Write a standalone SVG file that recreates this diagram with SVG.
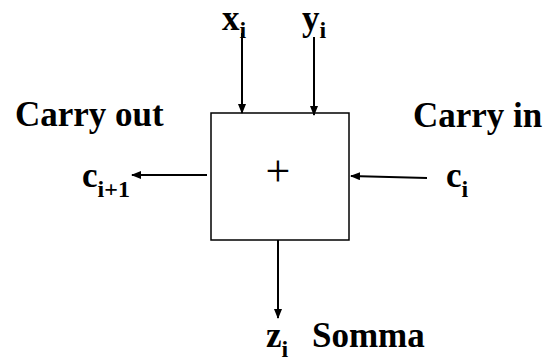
<svg xmlns="http://www.w3.org/2000/svg" width="551" height="363" viewBox="0 0 551 363">
<style>
.lbl{font-family:"Liberation Serif","Times New Roman",serif;font-weight:bold;font-size:35px;fill:#000}
.sub{font-size:24px}
.plus{font-family:"Liberation Serif","Times New Roman",serif;font-size:44px;fill:#000}
.ln{stroke:#000;stroke-width:2;fill:none}
</style>
<defs>
<marker id="ah" markerWidth="10" markerHeight="10" refX="9" refY="4" orient="auto" markerUnits="userSpaceOnUse">
<path d="M0,0 L10,4 L0,8 Z" fill="#000"/>
</marker>
</defs>
<rect width="551" height="363" fill="#fff"/>
<g id="adder">
<rect x="211" y="113" width="138" height="127" fill="none" stroke="#000" stroke-width="1.5"/>
<text class="plus" x="278" y="186" text-anchor="middle">+</text>
</g>
<g id="connectors">
<line class="ln" x1="242" y1="33" x2="242" y2="113" marker-end="url(#ah)"/>
<line class="ln" x1="314" y1="37" x2="314" y2="115" marker-end="url(#ah)"/>
<line class="ln" x1="207" y1="175" x2="132" y2="175" marker-end="url(#ah)"/>
<line class="ln" x1="427" y1="178" x2="351" y2="176" marker-end="url(#ah)"/>
<line class="ln" x1="278" y1="240" x2="278" y2="318" marker-end="url(#ah)"/>
</g>
<g id="x-input"><text class="lbl" x="222" y="30">x<tspan class="sub" dy="8">i</tspan></text></g>
<g id="y-input"><text class="lbl" x="302" y="30">y<tspan class="sub" dy="8">i</tspan></text></g>
<g id="carry-out"><text class="lbl" x="15" y="126">Carry out</text>
<text class="lbl" x="82" y="187">c<tspan class="sub" dy="10">i+1</tspan></text></g>
<g id="carry-in"><text class="lbl" x="413" y="127">Carry in</text>
<text class="lbl" x="446" y="187">c<tspan class="sub" dy="10">i</tspan></text></g>
<g id="sum"><text class="lbl" x="266" y="347">z<tspan class="sub" dy="10">i</tspan></text>
<text class="lbl" x="312" y="347">Somma</text></g>
</svg>
